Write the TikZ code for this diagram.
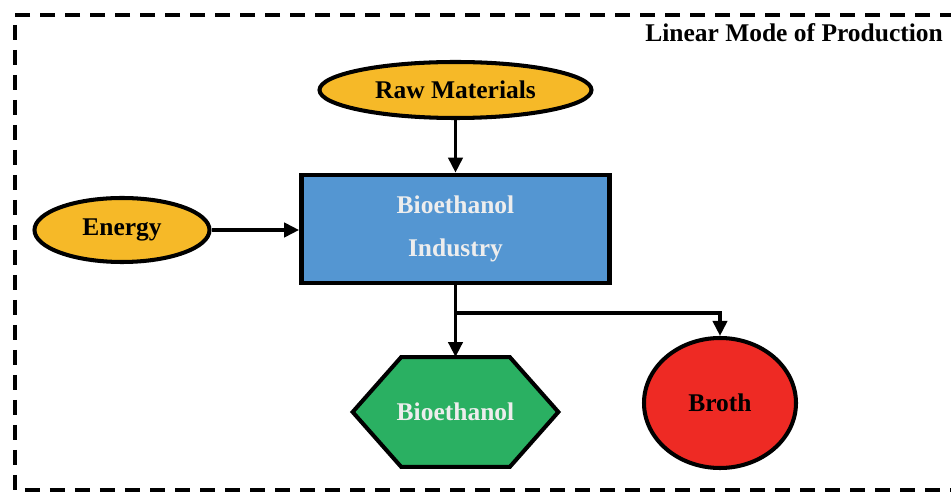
\documentclass[tikz,border=0pt]{standalone}
\usepackage{fontspec}
\setmainfont{Liberation Serif}
\usepackage{tikz}
\usetikzlibrary{calc,shapes,positioning}
\usetikzlibrary{backgrounds}
\usetikzlibrary{arrows.meta}
\tikzset{>={Triangle[width=2.8mm,length=3mm]}}

\definecolor{rawcol}{RGB}{246,185,40}
\definecolor{indcol}{RGB}{84,150,210}
\definecolor{prodcol}{RGB}{42,176,98}
\definecolor{brothcol}{RGB}{238,42,36}

\begin{document}
\begin{tikzpicture}
        \useasboundingbox (0,0) rectangle (19.02,9.9);
        \begin{scope}

          \tikzstyle{enode} = [line width=2.3pt, draw=black, ellipse, fill=rawcol, inner sep = 0pt, font=\fontsize{14.5}{16}\selectfont\bfseries]
          \tikzstyle{bnode} = [line width=2.6pt, rectangle, draw=black, fill=indcol, text=black!7, align=center, font=\fontsize{14.5}{24}\selectfont\bfseries]
          \tikzstyle{hnode} = [rectangle, inner sep = 0pt, text=black!7, font=\fontsize{14.5}{16}\selectfont\bfseries]
          \tikzstyle{link} = [line width=2.2pt, ->]

          \node[font=\fontsize{14.5}{16}\selectfont\bfseries, anchor=east] (title) at (18.98,9.24) {Linear Mode of Production};

          \node[enode, minimum width=5.44cm, minimum height=1.12cm] (raw) at (9.11,8.1) {Raw Materials};
          \node[enode, minimum width=3.5cm, minimum height=1.28cm] (energy) at (2.44,5.3) {Energy};

          \node[bnode, minimum width=6.16cm, minimum height=2.16cm] (ind) at (9.11,5.32) {Bioethanol\\Industry};

          \node[hnode, minimum width=4.1cm, minimum height=2.18cm] (prod) at (9.11,1.66) {Bioethanol};
          \node[enode, fill=brothcol, minimum width=3.04cm, minimum height=2.6cm] (broth) at (14.4,1.84) {Broth};

          \begin{scope}[on background layer]
            \draw[line width=2.3pt, fill=prodcol, line join=miter]
              (prod.west) -- ($(prod.north west)+(0.97,0)$) -- ($(prod.north east)+(-0.97,0)$)
              -- (prod.east) -- ($(prod.south east)+(-0.97,0)$) -- ($(prod.south west)+(0.97,0)$) -- cycle;
          \end{scope}

          \coordinate (split) at ($(ind.south)!0.39!(prod.north)$);

          \draw[link] (raw) -- (ind);
          \draw[link] (energy.east) -- (energy.east -| ind.west);
          \draw[link] (ind) -- (prod);
          \draw[link] (split) -| (broth.north);

          \draw[line width=2.8pt, dash pattern=on 0.3cm off 0.2cm]
            (19.6,9.6) -- (0.3,9.6) -- (0.3,0.1) -- (19.6,0.1);

        \end{scope}
      \end{tikzpicture}
\end{document}
